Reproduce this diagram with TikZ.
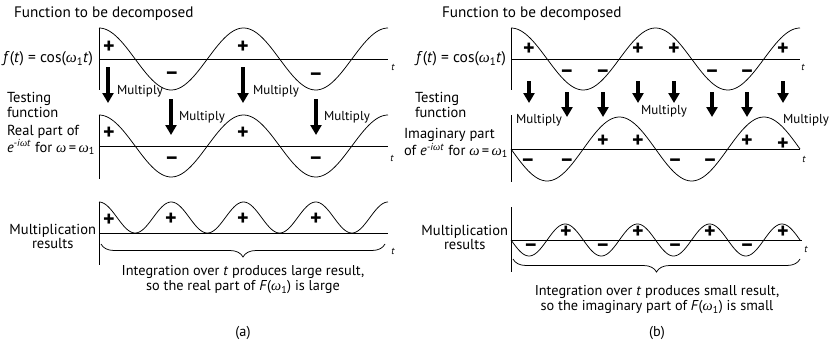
\documentclass[tikz,border=0pt]{standalone}
\usepackage{fontspec}
\setmainfont{PT Sans}
\newfontfamily\serifit{Liberation Serif}
\usetikzlibrary{arrows.meta,decorations.pathreplacing}
\newcommand{\omg}{{\serifit\itshape ω}}
\begin{document}
\begin{tikzpicture}[x=1pt,y=-1pt,
  every node/.style={inner sep=0pt, outer sep=0pt},
  lbl/.style={font=\fontsize{14.5}{13}\selectfont, align=left},
  flbl/.style={font=\fontsize{15.5}{14}\selectfont},
  ttl/.style={font=\fontsize{15.2}{15}\selectfont},
  sgn/.style={font=\fontsize{22}{22}\selectfont\bfseries},
  tl/.style={font=\fontsize{10}{10}\selectfont\itshape},
  mul/.style={font=\fontsize{13}{14}\selectfont},
  captxt/.style={font=\fontsize{14.3}{15}\selectfont, align=center},
  axisln/.style={line width=0.75pt},
  wave/.style={line width=0.75pt},
  bigarrow/.style={line width=3.6pt, -{Triangle[width=11pt,length=10pt]}},
  brc/.style={line width=0.75pt, decorate, decoration={brace, amplitude=13pt, mirror}},
  ]
\useasboundingbox (0,0) rectangle (829,348);

%%%%%%%%%%%%%%%% PANEL (a) %%%%%%%%%%%%%%%%
\node[ttl, anchor=west] (tA) at (14,14) {Function to be decomposed};
\node[flbl, anchor=east] (fA) at (93,59) {\textit{f}(\textit{t}) = cos(\omg\textsubscript{1}\textit{t})};
\node[lbl, anchor=west] (testA) at (7,105) {Testing\\function};
\node[lbl, anchor=west] (realA) at (7,140) {Real part of\\\textit{e}\textsuperscript{\textit{-i}\omg\textit{t}} for \omg\,=\,\omg\textsubscript{1}};
\node[lbl, anchor=east, align=center] (mulA) at (96,236) {Multiplication\\results};

% top plot
\draw[axisln] (99,28) -- (99,90);
\draw[axisln] (99,59) -- (388,59);
\draw[wave] plot[domain=99:388, samples=120, smooth] (\x, {59-31*cos(360*((\x-99)/144.5))});
\node[tl] (tA1) at (393,67) {t};
% middle plot
\draw[axisln] (99,115) -- (99,179);
\draw[axisln] (99,146) -- (388,146);
\draw[wave] plot[domain=99:388, samples=120, smooth] (\x, {146-31*cos(360*((\x-99)/144.5))});
\node[tl] (tA2) at (392,158) {t};
% bottom plot
\draw[axisln] (99,202) -- (99,265);
\draw[axisln] (99,233) -- (388,233);
\draw[wave] plot[domain=99:388, samples=200, smooth] (\x, {233-31*(cos(360*((\x-99)/144.5)))^2});
\node[tl] (tA3) at (393,251) {t};

% signs
\node[sgn] (sA1) at (109,47) {+};
\node[sgn] (sA2) at (172,76) {–};
\node[sgn] (sA3) at (243,47) {+};
\node[sgn] (sA4) at (316,77) {–};
\node[sgn] (sA5) at (109,133) {+};
\node[sgn] (sA6) at (172,161) {–};
\node[sgn] (sA7) at (243,133) {+};
\node[sgn] (sA8) at (316,161) {–};
\node[sgn] (sA9) at (109,220) {+};
\node[sgn] (sA10) at (171,219) {+};
\node[sgn] (sA11) at (243,219) {+};
\node[sgn] (sA12) at (316,219) {+};

% arrows
\coordinate (aA1s) at (108,67);  \coordinate (aA1e) at (108,103);
\coordinate (aA2s) at (243,67);  \coordinate (aA2e) at (243,103);
\coordinate (aA3s) at (171,99);  \coordinate (aA3e) at (171,135);
\coordinate (aA4s) at (316,99);  \coordinate (aA4e) at (316,135);
\draw[bigarrow] (aA1s) -- (aA1e);
\draw[bigarrow] (aA2s) -- (aA2e);
\draw[bigarrow] (aA3s) -- (aA3e);
\draw[bigarrow] (aA4s) -- (aA4e);
\node[mul, anchor=west] (mA1) at (117,91) {Multiply};
\node[mul, anchor=west] (mA2) at (253,91) {Multiply};
\node[mul, anchor=west] (mA3) at (179,117) {Multiply};
\node[mul, anchor=west] (mA4) at (324,117) {Multiply};

% brace
\coordinate (bA1) at (101,244);
\coordinate (bA2) at (385,244);
\draw[brc] (bA1) -- (bA2);
\node[captxt] (iA) at (243,280) {Integration over \textit{t} produces large result,\\so the real part of \textit{F}(\omg\textsubscript{1}) is large};
\node[captxt] (labA) at (243,333) {(a)};

%%%%%%%%%%%%%%%% PANEL (b) %%%%%%%%%%%%%%%%
\node[ttl, anchor=west] (tB) at (442,14) {Function to be decomposed};
\node[flbl, anchor=east] (fB) at (506,59) {\textit{f}(\textit{t}) = cos(\omg\textsubscript{1}\textit{t})};
\node[lbl, anchor=west] (testB) at (415,105) {Testing\\function};
\node[lbl, anchor=west] (imB) at (404,143) {Imaginary part\\of \textit{e}\textsuperscript{\textit{-i}\omg\textit{t}} for \omg\,=\,\omg\textsubscript{1}};
\node[lbl, anchor=east, align=center] (mulB) at (508,237) {Multiplication\\results};

% top plot
\draw[axisln] (511,28) -- (511,90);
\draw[axisln] (511,59) -- (800,59);
\draw[wave] plot[domain=511:800, samples=120, smooth] (\x, {59-31*cos(360*((\x-511)/144.5))});
\node[tl] (tB1) at (803,67) {t};
% middle plot
\draw[axisln] (511,115) -- (511,182);
\draw[axisln] (511,149) -- (800,149);
\draw[wave] plot[domain=511:800, samples=120, smooth] (\x, {149+32*sin(360*((\x-511)/144.5))});
\node[tl] (tB2) at (804,159) {t};
% bottom plot
\draw[axisln] (511,207) -- (511,272);
\draw[axisln] (511,240) -- (802,240);
\draw[wave] plot[domain=511:800, samples=200, smooth] (\x, {240+16*sin(720*((\x-511)/144.5))});
\node[tl] (tB3) at (806,249) {t};

% signs
\node[sgn] (sB1) at (529,49) {+};
\node[sgn] (sB2) at (567,74) {–};
\node[sgn] (sB3) at (603,74) {–};
\node[sgn] (sB4) at (638,49) {+};
\node[sgn] (sB5) at (674,49) {+};
\node[sgn] (sB6) at (712,74) {–};
\node[sgn] (sB7) at (747,74) {–};
\node[sgn] (sB8) at (783,49) {+};
\node[sgn] (sB9) at (528,163) {–};
\node[sgn] (sB10) at (567,163) {–};
\node[sgn] (sB11) at (603,141) {+};
\node[sgn] (sB12) at (638,141) {+};
\node[sgn] (sB13) at (675,163) {–};
\node[sgn] (sB14) at (710,163) {–};
\node[sgn] (sB15) at (747,141) {+};
\node[sgn] (sB16) at (783,144) {+};
\node[sgn] (sB17) at (531,248) {–};
\node[sgn] (sB18) at (566,232) {+};
\node[sgn] (sB19) at (603,248) {–};
\node[sgn] (sB20) at (638,232) {+};
\node[sgn] (sB21) at (675,248) {–};
\node[sgn] (sB22) at (710,232) {+};
\node[sgn] (sB23) at (747,248) {–};
\node[sgn] (sB24) at (783,232) {+};

% arrows
\foreach \i/\xx in {1/529,2/638,3/674,4/783}{
  \coordinate (aBh\i s) at (\xx,81);
  \coordinate (aBh\i e) at (\xx,103);
  \draw[bigarrow] (aBh\i s) -- (aBh\i e);
}
\foreach \i/\xx in {1/567,2/603,3/712,4/747}{
  \coordinate (aBl\i s) at (\xx,92);
  \coordinate (aBl\i e) at (\xx,117);
  \draw[bigarrow] (aBl\i s) -- (aBl\i e);
}
\node[mul] (mB1) at (539,120) {Multiply};
\node[mul] (mB2) at (664,111) {Multiply};
\node[mul] (mB3) at (806,120) {Multiply};

% brace
\coordinate (bB1) at (513,259);
\coordinate (bB2) at (800,259);
\draw[brc] (bB1) -- (bB2);
\node[captxt] (iB) at (657,300) {Integration over \textit{t} produces small result,\\so the imaginary part of \textit{F}(\omg\textsubscript{1}) is small};
\node[captxt] (labB) at (657,333) {(b)};
\end{tikzpicture}
\end{document}
